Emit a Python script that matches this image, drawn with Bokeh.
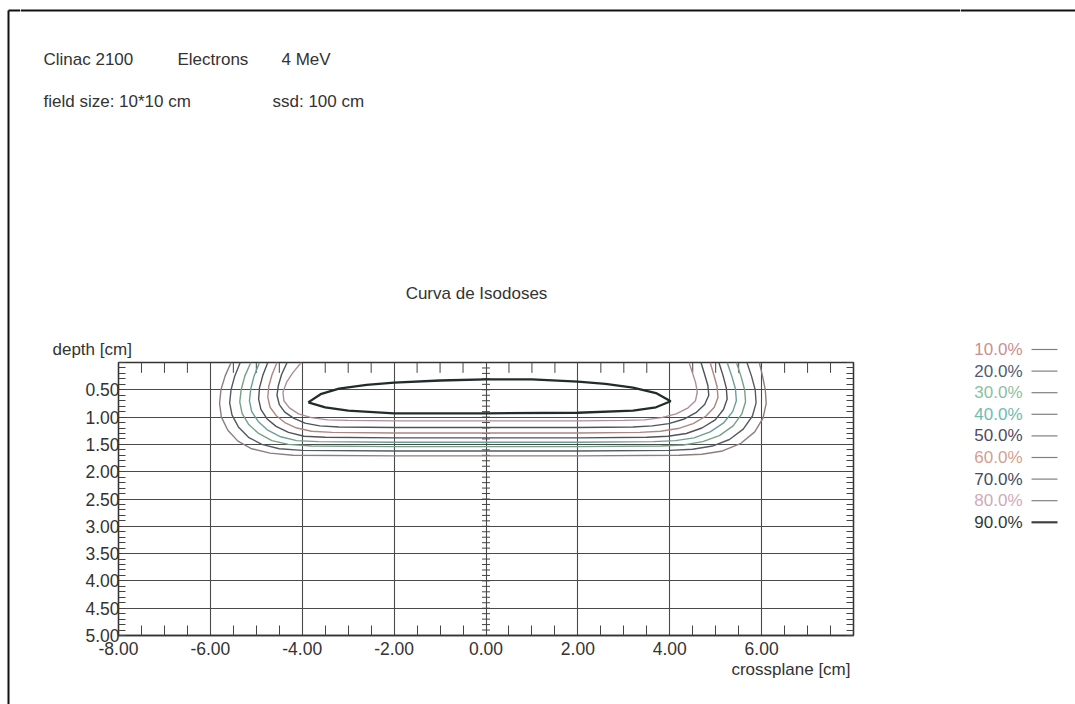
from bokeh.plotting import figure
from bokeh.layouts import row, column
from bokeh.models import Range1d, FixedTicker, PrintfTickFormatter, LinearAxis
from bokeh.core.properties import value
from bokeh.embed import file_html
from bokeh.resources import INLINE

# ---------------------------------------------------------------- data
x_major = [-8, -6, -4, -2, 0, 2, 4, 6]
x_minor = [-7.5, -7, -6.5, -5.5, -5, -4.5, -3.5, -3, -2.5, -1.5, -1, -0.5,
           0.5, 1, 1.5, 2.5, 3, 3.5, 4.5, 5, 5.5, 6.5, 7, 7.5]
x_grid = [-6, -4, -2, 0, 2, 4, 6]
y_major = [0.5, 1.0, 1.5, 2.0, 2.5, 3.0, 3.5, 4.0, 4.5, 5.0]
y_grid = [0.5, 1.0, 1.5, 2.0, 2.5, 3.0, 3.5, 4.0, 4.5]
y_minor = [round(0.1 * i, 1) for i in range(0, 51)]

levels = ["10.0%", "20.0%", "30.0%", "40.0%", "50.0%",
          "60.0%", "70.0%", "80.0%", "90.0%"]

# isodose lines: crossplane position [cm] and depth [cm]
iso10_x = [-5.55, -5.68, -5.77, -5.80, -5.76, -5.62, -5.40, -5.10, -4.70, -4.20,
           -2.0, 0.0, 2.0, 4.20, 4.70, 5.15, 5.55, 5.85, 6.03, 6.10, 6.08, 6.02, 5.95]
iso10_d = [0.00, 0.25, 0.50, 0.75, 1.00, 1.24, 1.44, 1.58, 1.66, 1.70,
           1.71, 1.71, 1.71, 1.70, 1.68, 1.62, 1.48, 1.27, 1.02, 0.75, 0.50, 0.25, 0.00]

iso20_x = [-5.35, -5.47, -5.55, -5.58, -5.53, -5.39, -5.17, -4.88, -4.50, -4.00,
           -2.0, 0.0, 2.0, 4.00, 4.50, 4.93, 5.30, 5.60, 5.80, 5.88, 5.86, 5.78, 5.68]
iso20_d = [0.00, 0.25, 0.50, 0.74, 0.96, 1.18, 1.37, 1.50, 1.58, 1.61,
           1.62, 1.62, 1.62, 1.61, 1.59, 1.53, 1.41, 1.22, 0.98, 0.74, 0.50, 0.25, 0.00]

iso30_x = [-5.12, -5.25, -5.33, -5.36, -5.31, -5.17, -4.95, -4.66, -4.30, -3.80,
           -2.0, 0.0, 2.0, 3.80, 4.30, 4.72, 5.08, 5.38, 5.57, 5.65, 5.63, 5.55, 5.45]
iso30_d = [0.00, 0.25, 0.50, 0.72, 0.93, 1.13, 1.30, 1.43, 1.50, 1.53,
           1.54, 1.54, 1.54, 1.53, 1.51, 1.45, 1.34, 1.16, 0.94, 0.72, 0.50, 0.25, 0.00]

iso40_x = [-4.93, -5.05, -5.12, -5.15, -5.10, -4.96, -4.75, -4.47, -4.12, -3.65,
           -2.0, 0.0, 2.0, 3.65, 4.12, 4.53, 4.88, 5.18, 5.37, 5.45, 5.43, 5.35, 5.25]
iso40_d = [0.00, 0.25, 0.48, 0.70, 0.90, 1.08, 1.24, 1.36, 1.43, 1.45,
           1.46, 1.46, 1.46, 1.45, 1.43, 1.38, 1.27, 1.10, 0.90, 0.70, 0.48, 0.25, 0.00]

iso50_x = [-4.75, -4.86, -4.93, -4.95, -4.90, -4.77, -4.57, -4.30, -3.96, -3.50,
           -2.0, 0.0, 2.0, 3.50, 3.96, 4.36, 4.70, 4.99, 5.17, 5.25, 5.23, 5.16, 5.07]
iso50_d = [0.00, 0.24, 0.46, 0.67, 0.86, 1.03, 1.17, 1.28, 1.35, 1.37,
           1.38, 1.38, 1.38, 1.37, 1.35, 1.30, 1.20, 1.05, 0.86, 0.67, 0.46, 0.24, 0.00]

iso60_x = [-4.55, -4.66, -4.73, -4.75, -4.70, -4.57, -4.38, -4.12, -3.80, -3.35,
           -2.0, 0.0, 2.0, 3.35, 3.80, 4.18, 4.51, 4.79, 4.97, 5.05, 5.03, 4.96, 4.88]
iso60_d = [0.00, 0.23, 0.44, 0.64, 0.82, 0.97, 1.10, 1.20, 1.26, 1.28,
           1.29, 1.29, 1.29, 1.28, 1.26, 1.21, 1.12, 0.98, 0.82, 0.64, 0.44, 0.23, 0.00]

iso70_x = [-4.33, -4.45, -4.52, -4.55, -4.50, -4.38, -4.19, -3.94, -3.62, -3.20,
           -2.0, 0.0, 2.0, 3.20, 3.62, 3.98, 4.30, 4.57, 4.76, 4.85, 4.83, 4.76, 4.68]
iso70_d = [0.00, 0.22, 0.42, 0.60, 0.77, 0.91, 1.02, 1.11, 1.16, 1.18,
           1.19, 1.19, 1.19, 1.18, 1.16, 1.12, 1.04, 0.92, 0.77, 0.60, 0.42, 0.22, 0.00]

iso80_x = [-4.02, -4.20, -4.34, -4.42, -4.40, -4.28, -4.08, -3.80, -3.45, -3.00,
           -2.0, 0.0, 2.0, 3.00, 3.45, 3.82, 4.14, 4.40, 4.56, 4.60, 4.56, 4.49, 4.42]
iso80_d = [0.00, 0.18, 0.36, 0.54, 0.70, 0.83, 0.94, 1.01, 1.05, 1.06,
           1.07, 1.07, 1.07, 1.06, 1.05, 1.01, 0.94, 0.83, 0.70, 0.54, 0.36, 0.18, 0.00]

iso90_x = [-3.87, -3.60, -3.20, -2.60, -2.00, -1.00, 0.00, 1.00, 2.00, 2.60, 3.20,
           3.70, 4.02, 3.70, 3.20, 2.00, 0.00, -2.00, -3.00, -3.50, -3.87]
iso90_d = [0.73, 0.58, 0.48, 0.41, 0.37, 0.33, 0.31, 0.31, 0.35, 0.39, 0.46,
           0.56, 0.71, 0.82, 0.88, 0.92, 0.93, 0.93, 0.88, 0.82, 0.73]

iso_x = [iso10_x, iso20_x, iso30_x, iso40_x, iso50_x, iso60_x, iso70_x, iso80_x, iso90_x]
iso_d = [iso10_d, iso20_d, iso30_d, iso40_d, iso50_d, iso60_d, iso70_d, iso80_d, iso90_d]

header_texts = ["Clinac 2100", "Electrons", "4 MeV", "field size: 10*10 cm", "ssd: 100 cm"]

# ---------------------------------------------------------------- styles
line_colors = ["#8e7c80", "#545a63", "#76a087", "#6c9e95", "#525058",
               "#ab8782", "#4e545c", "#ae8e9a", "#222c2c"]
line_widths = [1.4, 1.4, 1.4, 1.4, 1.4, 1.4, 1.4, 1.4, 2.3]
label_colors = ["#c98f93", "#4f5c72", "#8dbf9f", "#6cbcb0", "#4e4a62",
                "#d2a090", "#424d5e", "#d0aab8", "#2c3c38"]
legend_line_colors = ["#808080"] * 8 + ["#404040"]
legend_line_widths = [1.2] * 8 + [2.2]

FONT = "Liberation Sans"
FS = "17px"
TICK_FS = "17.5px"
TXT = "#333333"
BORDER = "#111111"

# page layout (pixels): a thin strip on the left, the centre column
# (header / isodose frame / footer) and the legend column on the right
W, H = 1075, 704
STRIP_W, LEG_W = 20, 115
MID_W = W - STRIP_W - LEG_W
HEAD_H, FOOT_H = 358, 44
MAIN_H = H - HEAD_H - FOOT_H
FL, FR, FT, FB = 118, 853, 362, 635          # isodose frame on the page
BT, BL = 10, 8                               # page border line


def blank(w, h, x0, x1, y0, y1):
    """figure whose frame fills it, with page-pixel coordinates"""
    f = figure(width=w, height=h, x_range=Range1d(x0, x1), y_range=Range1d(y1, y0),
               x_axis_type=None, y_axis_type=None, output_backend="svg",
               toolbar_location=None, title=None, frame_align=False,
               min_border_left=0, min_border_right=0,
               min_border_top=0, min_border_bottom=0)
    f.outline_line_color = None
    f.grid.visible = False
    f.background_fill_color = "white"
    f.border_fill_color = "white"
    return f


def put_text(f, xs, ys, texts, align="left", colors=TXT):
    f.text(x=xs, y=ys, text=texts, text_align=align, text_baseline="middle",
           text_font=value(FONT), text_font_size=FS, text_color=colors)


# ---- left strip: page border
strip = blank(STRIP_W, H, 0, STRIP_W, 0, H)
strip.segment(x0=[BL, BL], y0=[BT, BT], x1=[BL, STRIP_W], y1=[H, BT],
              line_color=BORDER, line_width=2)

# ---- header
head = blank(MID_W, HEAD_H, STRIP_W, STRIP_W + MID_W, 0, HEAD_H)
head.segment(x0=[STRIP_W], y0=[BT], x1=[STRIP_W + MID_W], y1=[BT],
             line_color=BORDER, line_width=2)
put_text(head, [43, 177, 281, 43, 272], [59, 59, 59, 101, 101], header_texts)
put_text(head, [476], [293], ["Curva de Isodoses"], align="center")
put_text(head, [52], [349], ["depth [cm]"])

# ---- isodose frame
p = figure(width=MID_W, height=MAIN_H, x_range=Range1d(-8, 8), y_range=Range1d(5, 0),
           output_backend="svg", toolbar_location=None, title=None, frame_align=False,
           min_border_left=FL - STRIP_W, min_border_right=STRIP_W + MID_W - FR,
           min_border_top=FT - HEAD_H, min_border_bottom=HEAD_H + MAIN_H - FB)
p.background_fill_color = "white"
p.border_fill_color = "white"
p.outline_line_color = "#333333"
p.outline_line_width = 1.3

p.xgrid.ticker = FixedTicker(ticks=x_grid)
p.ygrid.ticker = FixedTicker(ticks=y_grid)
for g in (p.xgrid, p.ygrid):
    g.grid_line_color = "#4a4a4a"
    g.grid_line_width = 1.1
    g.grid_line_alpha = 1.0


def style_axis(ax):
    ax.axis_line_color = "#333333"
    ax.axis_line_width = 1.3
    ax.major_tick_in = 0
    ax.major_tick_out = 0
    ax.minor_tick_out = 0
    ax.minor_tick_line_color = "#444444"
    ax.minor_tick_line_width = 1
    ax.major_label_text_font = FONT
    ax.major_label_text_font_size = TICK_FS
    ax.major_label_text_color = TXT


p.xaxis.ticker = FixedTicker(ticks=x_major, minor_ticks=x_minor)
p.xaxis.formatter = PrintfTickFormatter(format="%.2f")
style_axis(p.xaxis[0])
p.xaxis.minor_tick_in = 10
p.xaxis.major_label_standoff = 6

p.yaxis.ticker = FixedTicker(ticks=y_major, minor_ticks=y_minor)
p.yaxis.formatter = PrintfTickFormatter(format="%.2f")
style_axis(p.yaxis[0])
p.yaxis.minor_tick_in = 7
p.yaxis.major_label_standoff = -1

right = LinearAxis(ticker=FixedTicker(ticks=[], minor_ticks=y_minor))
style_axis(right)
right.minor_tick_in = 7
p.add_layout(right, "right")

# ticks along the top edge of the frame
p.segment(x0=x_minor, y0=[0.0] * len(x_minor), x1=x_minor, y1=[0.19] * len(x_minor),
          line_color="#444444", line_width=1)
# central axis at x = 0 with its depth ticks
p.scatter(x=[0.0] * len(y_minor), y=y_minor, marker="dash", size=8,
          line_color="#444444", line_width=1)

for xs, ds, c, w in zip(iso_x, iso_d, line_colors, line_widths):
    p.line(xs, ds, line_color=c, line_width=w)

# ---- footer: horizontal axis name
foot = blank(MID_W, FOOT_H, STRIP_W, STRIP_W + MID_W, HEAD_H + MAIN_H, H)
put_text(foot, [850], [669], ["crossplane [cm]"], align="right")

# ---- legend column
leg = blank(LEG_W, H, W - LEG_W, W, 0, H)
leg.segment(x0=[W - LEG_W], y0=[BT], x1=[W], y1=[BT], line_color=BORDER, line_width=2)
leg_y = [349 + 21.6 * i for i in range(len(levels))]
put_text(leg, [1022] * len(levels), leg_y, levels, align="right", colors=label_colors)
leg.segment(x0=[1031] * len(levels), y0=leg_y, x1=[1057] * len(levels), y1=leg_y,
            line_color=legend_line_colors, line_width=legend_line_widths)

page = row(strip, column(head, p, foot, spacing=0), leg, spacing=0)

open("out.html", "w").write(file_html(page, INLINE))
